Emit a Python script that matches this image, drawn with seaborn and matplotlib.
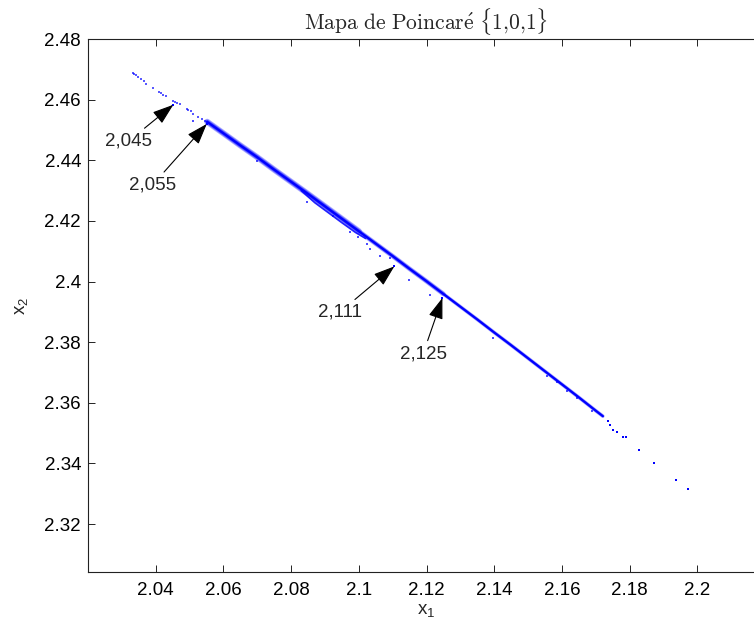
import matplotlib
matplotlib.use("Agg")
import matplotlib.pyplot as plt
import seaborn as sns

# ---- data ----
# sparse head of the Poincaré section (isolated dots)
head_x = [2.0332, 2.0336, 2.0342, 2.0349, 2.0356, 2.0365, 2.0371, 2.0393, 2.0411, 2.0415,
          2.0422, 2.0430, 2.0450, 2.0457, 2.0464, 2.0472, 2.0492, 2.0496, 2.0503, 2.0511,
          2.0526, 2.0536, 2.0546, 2.0552]
head_y = [2.4689, 2.4685, 2.4680, 2.4674, 2.4667, 2.4663, 2.4652, 2.4638, 2.4626, 2.4621,
          2.4616, 2.4612, 2.4597, 2.4592, 2.4588, 2.4584, 2.4570, 2.4566, 2.4562, 2.4553,
          2.4544, 2.4537, 2.4530, 2.4524]

# dense main band of points
core_x = [2.0552, 2.0600, 2.0650, 2.0700, 2.0750, 2.0800, 2.0850, 2.0900, 2.0950, 2.1000,
          2.1050, 2.1100, 2.1150, 2.1200, 2.1250, 2.1300, 2.1350, 2.1400, 2.1450, 2.1500,
          2.1550, 2.1600, 2.1650, 2.1700, 2.1721]
core_y = [2.4527, 2.4489, 2.4449, 2.4410, 2.4369, 2.4329, 2.4289, 2.4248, 2.4207, 2.4166,
          2.4125, 2.4084, 2.4042, 2.4001, 2.3959, 2.3917, 2.3875, 2.3832, 2.3790, 2.3747,
          2.3704, 2.3661, 2.3618, 2.3574, 2.3556]

# secondary (lower) strand of the band
low_x = [2.0830, 2.0870, 2.0910, 2.0950, 2.0990, 2.1020]
low_y = [2.4300, 2.4260, 2.4227, 2.4194, 2.4162, 2.4142]

# stray dots around the band
stray_x = [2.0511, 2.0698, 2.0846, 2.0925, 2.0974, 2.0999, 2.1023, 2.1033, 2.1063, 2.1092,
           2.1149, 2.1210, 2.1397, 2.1555, 2.1585, 2.1614, 2.1644, 2.1688]
stray_y = [2.4531, 2.4396, 2.4264, 2.4215, 2.4162, 2.4147, 2.4125, 2.4109, 2.4083, 2.4077,
           2.4006, 2.3956, 2.3814, 2.3687, 2.3668, 2.3638, 2.3616, 2.3572]

# sparse tail
tail_x = [2.1735, 2.1742, 2.1752, 2.1762, 2.1781, 2.1790, 2.1827, 2.1873, 2.1937, 2.1973]
tail_y = [2.3539, 2.3526, 2.3512, 2.3504, 2.3488, 2.3487, 2.3445, 2.3403, 2.3346, 2.3316]

# annotated points
mark_x = [2.0452, 2.0551, 2.1105, 2.1247]
mark_y = [2.4583, 2.4520, 2.4050, 2.3946]
mark_labels = ["2,045", "2,055", "2,111", "2,125"]
label_pos = [(2.0321, 2.4464), (2.0391, 2.4319), (2.0944, 2.3899), (2.1190, 2.3762)]

x_ticks = [2.04, 2.06, 2.08, 2.10, 2.12, 2.14, 2.16, 2.18, 2.20]
x_ticklabels = ["2.04", "2.06", "2.08", "2.1", "2.12", "2.14", "2.16", "2.18", "2.2"]
y_ticks = [2.32, 2.34, 2.36, 2.38, 2.40, 2.42, 2.44, 2.46, 2.48]
y_ticklabels = ["2.32", "2.34", "2.36", "2.38", "2.4", "2.42", "2.44", "2.46", "2.48"]

# ---- style ----
sns.set_style("ticks")
plt.rcParams['font.family'] = ['Liberation Sans', 'DejaVu Sans']
plt.rcParams['axes.linewidth'] = 0.8

BLUE = '#0000ff'
FS = 13.5

fig = plt.figure(figsize=(7.54, 6.28), dpi=100)
ax = fig.add_axes([88 / 754, 56 / 628, 677 / 754, 533 / 628])

# translucent fuzz around the band (wider where the band is thicker)
sns.lineplot(x=core_x[:10], y=core_y[:10], sort=False, estimator=None,
             color=BLUE, lw=4.4, alpha=0.3, ax=ax)
sns.lineplot(x=core_x[:15], y=core_y[:15], sort=False, estimator=None,
             color=BLUE, lw=3.4, alpha=0.3, ax=ax)
sns.lineplot(x=core_x, y=core_y, sort=False, estimator=None,
             color=BLUE, lw=2.6, alpha=0.35, ax=ax)
# dense core of the band
sns.lineplot(x=core_x, y=core_y, sort=False, estimator=None,
             color=BLUE, lw=1.7, ax=ax)
sns.lineplot(x=low_x, y=low_y, sort=False, estimator=None,
             color=BLUE, lw=1.2, alpha=0.85, ax=ax)

sns.scatterplot(x=head_x, y=head_y, marker='s', s=1.3, linewidth=0, color=BLUE,
                alpha=0.65, ax=ax)
sns.scatterplot(x=stray_x, y=stray_y, marker='s', s=2.0, linewidth=0, color=BLUE,
                alpha=0.7, ax=ax)
sns.scatterplot(x=tail_x, y=tail_y, marker='s', s=2.5, linewidth=0, color=BLUE, ax=ax)
sns.scatterplot(x=mark_x, y=mark_y, marker='s', s=2.0, linewidth=0, color=BLUE, ax=ax)

for (mx, my, lab, pos) in zip(mark_x, mark_y, mark_labels, label_pos):
    ax.annotate(lab, xy=(mx, my), xytext=pos, textcoords='data',
                fontsize=FS, ha='center', va='center',
                arrowprops=dict(arrowstyle='-|>,head_length=1.3,head_width=0.45',
                                mutation_scale=10, lw=0.8, color='black',
                                shrinkA=1, shrinkB=0))

ax.set_xlim(2.02, 2.22)
ax.set_ylim(2.3042, 2.48)
ax.set_xticks(x_ticks)
ax.set_xticklabels(x_ticklabels)
ax.set_yticks(y_ticks)
ax.set_yticklabels(y_ticklabels)
ax.tick_params(direction='in', top=True, right=True, length=5, width=0.6,
               labelsize=FS, pad=5, colors='black')
ax.tick_params(axis='x', pad=7)
for sp in ax.spines.values():
    sp.set_visible(True)
    sp.set_color('#222222')

ax.set_xlabel(r'x$_\mathregular{1}$', fontsize=FS, labelpad=3)
ax.set_ylabel(r'x$_\mathregular{2}$', fontsize=FS, labelpad=10)
ax.set_title(r'$\mathrm{Mapa\ de\ Poincar\acute{e}}\ \{1{,}0{,}1\}$', math_fontfamily='cm',
             fontsize=15.5, pad=7)

fig.savefig('out.png', dpi=100)
